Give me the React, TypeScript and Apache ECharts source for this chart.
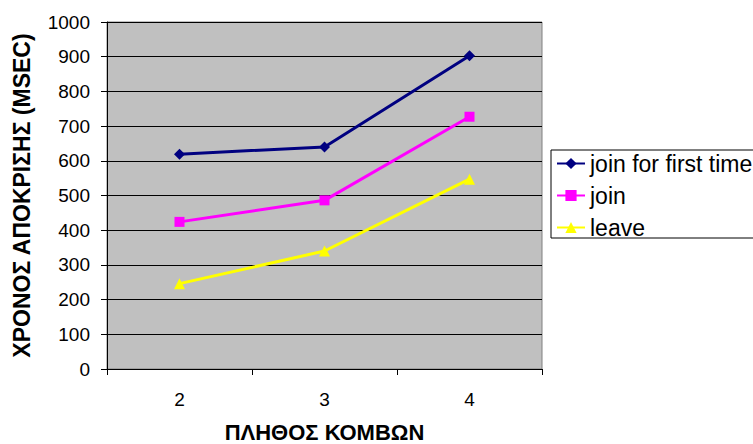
import React, { useEffect, useRef } from "react";
import * as echarts from "echarts";

const categories = ["2", "3", "4"];
const joinFirst = [619, 640, 903];
const joinVals = [424, 486, 727];
const leaveVals = [246, 340, 547];
const seriesNames = ["join for first time", "join", "leave"];

export default function App() {
  const ref = useRef<HTMLDivElement>(null);
  useEffect(() => {
    const chart = echarts.init(ref.current!, null, { renderer: "svg" });
    const font = "Arial, 'Liberation Sans', sans-serif";
    chart.setOption({
      animation: false,
      backgroundColor: "#ffffff",
      grid: {
        left: 107,
        top: 22,
        width: 435,
        height: 347,
        show: true,
        backgroundColor: "#c0c0c0",
        borderColor: "#808080",
        borderWidth: 1,
        containLabel: false,
        outerBoundsMode: "none",
      },
      legend: {
        orient: "vertical",
        left: 556,
        top: 152,
        itemWidth: 28,
        itemHeight: 14,
        itemGap: 9,
        padding: 0,
        textStyle: { fontFamily: font, fontSize: 23, color: "#000" },
        data: seriesNames,
      },
      graphic: [
        {
          type: "rect",
          shape: { x: 551, y: 150, width: 220, height: 88 },
          style: { fill: "none", stroke: "#000", lineWidth: 1 },
          z: 0,
        },
      ],
      xAxis: {
        type: "category",
        data: categories,
        boundaryGap: true,
        name: "ΠΛΗΘΟΣ ΚΟΜΒΩΝ",
        nameLocation: "middle",
        nameGap: 53,
        nameTextStyle: { fontFamily: font, fontSize: 22, lineHeight: 20, fontWeight: "bold", color: "#000" },
        axisLine: { lineStyle: { color: "#000", width: 1 } },
        axisTick: { show: true, length: 6, lineStyle: { color: "#000" } },
        axisLabel: { fontFamily: font, fontSize: 19, color: "#000", margin: 21 },
        splitLine: { show: false },
      },
      yAxis: {
        type: "value",
        min: 0,
        max: 1000,
        interval: 100,
        name: "ΧΡΟΝΟΣ ΑΠΟΚΡΙΣΗΣ (MSEC)",
        nameLocation: "middle",
        nameGap: 74,
        nameTextStyle: { fontFamily: font, fontSize: 23, fontWeight: "bold", color: "#000" },
        axisLine: { show: true, lineStyle: { color: "#000", width: 1 } },
        axisTick: { show: true, length: 6, inside: false, lineStyle: { color: "#000" } },
        axisLabel: {
          fontFamily: font,
          fontSize: 19,
          color: "#000",
          margin: 17,
          formatter: (v: number) => String(v),
        },
        splitLine: { show: true, lineStyle: { color: "#000", width: 1 } },
      },
      series: [
        {
          name: seriesNames[0],
          type: "line",
          data: joinFirst,
          symbol: "diamond",
          symbolSize: 11,
          itemStyle: { color: "#000080" },
          lineStyle: { color: "#000080", width: 3 },
        },
        {
          name: seriesNames[1],
          type: "line",
          data: joinVals,
          symbol: "rect",
          symbolSize: 10,
          itemStyle: { color: "#ff00ff" },
          lineStyle: { color: "#ff00ff", width: 3 },
        },
        {
          name: seriesNames[2],
          type: "line",
          data: leaveVals,
          symbol: "triangle",
          symbolSize: 11,
          itemStyle: { color: "#ffff00" },
          lineStyle: { color: "#ffff00", width: 3 },
        },
      ],
    });
    return () => chart.dispose();
  }, []);
  return <div ref={ref} style={{ width: 753, height: 444, position: "absolute", left: 0, top: 0 }} />;
}
